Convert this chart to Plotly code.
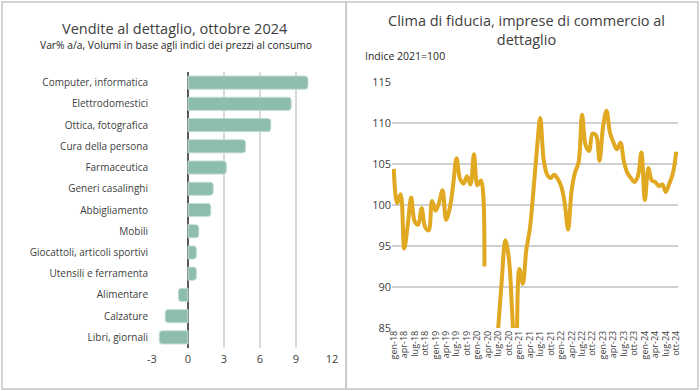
import plotly.graph_objects as go

# ---------- data ----------
categories = ["Computer, informatica", "Elettrodomestici", "Ottica, fotografica",
              "Cura della persona", "Farmaceutica", "Generi casalinghi",
              "Abbigliamento", "Mobili", "Giocattoli, articoli sportivi",
              "Utensili e ferramenta", "Alimentare", "Calzature", "Libri, giornali"]
var_aa = [10.0, 8.6, 6.9, 4.8, 3.2, 2.1, 1.9, 0.9, 0.7, 0.7, -0.8, -1.9, -2.4]
bar_ticks = [-3, 0, 3, 6, 9, 12]
bar_ticktext = ["-3", "0", "3", "6", "9", "12"]

month_abbr = ["gen", "feb", "mar", "apr", "mag", "giu", "lug", "ago", "set", "ott", "nov", "dic"]
years = ["18", "19", "20", "21", "22", "23", "24"]
months = [f"{m}-{y}" for y in years for m in month_abbr][:82]  # gen-18 .. ott-24

clima = [104.4, 100.2, 101.3, 94.7, 97.5, 100.9, 98.0, 97.6, 99.6, 97.3, 96.9, 100.5,
         99.3, 100.3, 101.8, 98.2, 99.5, 102.3, 105.7, 103.2, 102.6, 103.5, 102.5, 106.2,
         102.4, 103.0, 92.5, None, None, 78.0, 85.3, 91.0, 95.7, 93.5, 86.5, 79.0,
         92.2, 90.4, 94.5, 97.0, 101.5, 106.5, 110.6, 105.5, 103.7, 103.3, 103.7, 103.2,
         102.3, 100.3, 97.0, 101.8, 104.0, 105.2, 111.0, 107.3, 106.6, 108.7, 108.5, 105.4,
         109.5, 111.5, 108.8, 107.6, 106.8, 107.6, 105.3, 103.9, 103.3, 102.8, 103.5, 106.4,
         100.6, 104.5, 103.0, 102.8, 102.3, 102.5, 101.6, 102.6, 103.8, 106.5]
clima_ticks = [85, 90, 95, 100, 105, 110, 115]
month_ticks = months[::3]

W, H = 700, 391
FONT = "Open Sans"
TXT = "#404040"

fig = go.Figure()

fig.add_trace(go.Bar(
    x=var_aa, y=categories, orientation="h", width=0.62,
    marker=dict(color="#8dbdaf", line=dict(color="#c4ddd6", width=1), cornerradius=3),
    xaxis="x", yaxis="y", showlegend=False, hoverinfo="x+y"))

fig.add_trace(go.Scatter(
    x=months, y=clima, mode="lines", connectgaps=False,
    line=dict(color="#E1A821", width=4, shape="spline", smoothing=1),
    xaxis="x2", yaxis="y2", showlegend=False))

def px(x):
    return x / W

def py(y):
    return 1 - y / H

fig.update_layout(
    width=W, height=H, margin=dict(l=0, r=0, t=0, b=0, pad=0, autoexpand=False),
    paper_bgcolor="white", plot_bgcolor="white",
    font=dict(family=FONT, color=TXT, size=11),
    xaxis=dict(domain=[px(152), px(332)], range=[-3, 12], tickvals=bar_ticks,
               ticktext=bar_ticktext, automargin=False,
               showgrid=True, gridcolor="#d9d9d9", gridwidth=2,
               zeroline=True, zerolinecolor="#595959", zerolinewidth=2,
               ticks="", ticklabelstandoff=3, tickfont=dict(size=11, color=TXT),
               anchor="y", fixedrange=True),
    yaxis=dict(domain=[py(348), py(72)], range=[12.5, -0.5], type="category",
               categoryorder="array", categoryarray=categories, automargin=False,
               showgrid=False, ticks="", ticklabelstandoff=3,
               tickfont=dict(size=10, color=TXT),
               anchor="x", fixedrange=True),
    xaxis2=dict(domain=[px(392), px(678)], range=[-0.5, 81.5], type="category",
                tickvals=month_ticks, ticktext=month_ticks, tickangle=-90,
                automargin=False,
                showgrid=False, ticks="", tickfont=dict(size=9, color=TXT),
                showline=False, anchor="y2", fixedrange=True),
    yaxis2=dict(domain=[py(328), py(82)], range=[85, 115], tickvals=clima_ticks,
                automargin=False,
                showgrid=True, gridcolor="#d0d0d0", gridwidth=1.5,
                zeroline=False, ticks="", tickfont=dict(size=11, color=TXT),
                anchor="x2", fixedrange=True),
    shapes=[
        dict(type="rect", xref="paper", yref="paper", x0=px(2), x1=px(346),
             y0=py(389), y1=py(2), line=dict(color="#c6c6c6", width=1.5)),
        dict(type="rect", xref="paper", yref="paper", x0=px(346), x1=px(698),
             y0=py(389), y1=py(2), line=dict(color="#c6c6c6", width=1.5)),
    ],
    annotations=[
        dict(text="Vendite al dettaglio, ottobre 2024", x=px(175), y=py(28),
             xref="paper", yref="paper", showarrow=False,
             font=dict(size=14.5, color="#404040"), xanchor="center", yanchor="middle"),
        dict(text="Var% a/a, Volumi in base agli indici dei prezzi al consumo",
             x=px(176), y=py(45), xref="paper", yref="paper", showarrow=False,
             font=dict(size=10.3, color="#262626"), xanchor="center", yanchor="middle"),
        dict(text="Clima di fiducia, imprese di commercio al<br>dettaglio",
             x=px(526), y=py(30), xref="paper", yref="paper", showarrow=False,
             font=dict(size=14.5, color="#404040"), xanchor="center", yanchor="middle"),
        dict(text="Indice 2021=100", x=px(363), y=py(56),
             xref="paper", yref="paper", showarrow=False,
             font=dict(size=10.5, color="#262626"), xanchor="left", yanchor="middle"),
    ],
)

fig.write_html("out.html", config={"displayModeBar": False},
               post_script="document.body.style.margin='0';")
